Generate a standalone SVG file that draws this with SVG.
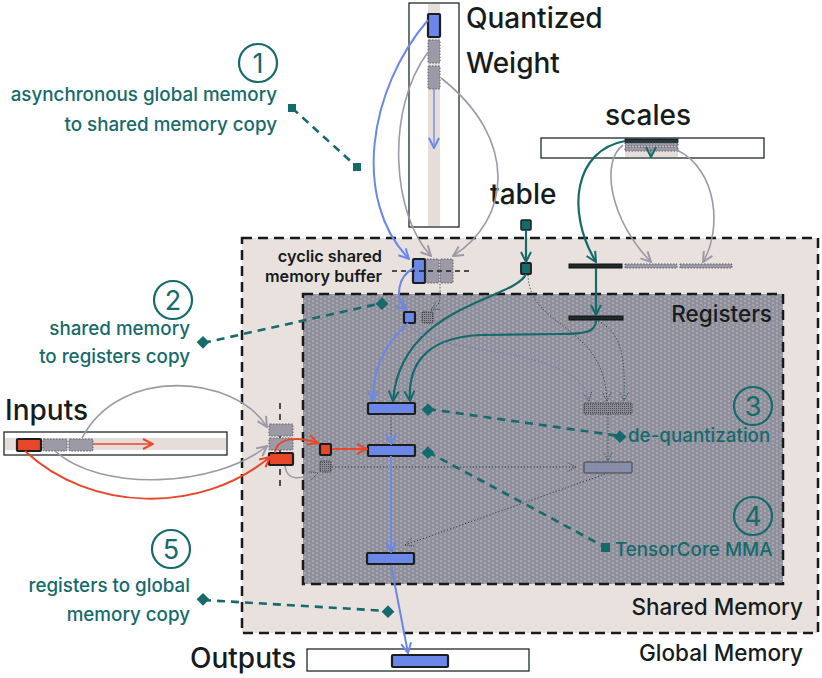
<svg xmlns="http://www.w3.org/2000/svg" width="822" height="678" viewBox="0 0 822 678">
<defs>
<style>
.t{font-family:Inter,"Noto Sans","DejaVu Sans",sans-serif;}
.big{font-size:28px;font-weight:500;fill:#161c1c;}
.mid{font-size:22.5px;font-weight:500;fill:#161c1c;}
.sm{font-size:16.3px;font-weight:600;fill:#161c1c;}
.lab{font-size:18.8px;font-weight:500;fill:#156a6c;}
.num{font-size:27px;font-weight:400;fill:#156a6c;}
.circ{fill:none;stroke:#156a6c;stroke-width:2.2;}
.blue{fill:#6b88e8;stroke:#1b1d1f;stroke-width:2.2;}
.red{fill:#e8472a;stroke:#1b1d1f;stroke-width:2.2;}
.gray{fill:#9b9aa6;stroke:#5f5e6a;stroke-width:1;stroke-dasharray:1.5 1.5;}
.hatch{fill:url(#dk);stroke:#3d4447;stroke-width:1;stroke-dasharray:1.5 1;}
.hatchb{fill:url(#dkb);stroke:#3d4447;stroke-width:1;}
.box{fill:#fff;stroke:#1e2a2a;stroke-width:1.3;}
.stripe{fill:#e6dcd9;}
.cb{fill:none;stroke:#6b88e8;stroke-width:2;}
.cg{fill:none;stroke:#9b9aa6;stroke-width:1.6;}
.ct{fill:none;stroke:#156a6c;stroke-width:2.2;}
.cr{fill:none;stroke:#e8472a;stroke-width:2;}
.cd{fill:none;stroke:#27474a;stroke-width:1;stroke-dasharray:1.2 2;}
.cdb{fill:none;stroke:#5a73c8;stroke-width:1;stroke-dasharray:1.2 2;}
.ld{fill:none;stroke:#156a6c;stroke-width:2.6;stroke-dasharray:8 6;}
.tl{fill:#156a6c;}
</style>
<pattern id="wd" width="8" height="4" patternUnits="userSpaceOnUse">
<rect width="8" height="4" fill="#908f9c"/>
<circle cx="1" cy="1" r="0.6" fill="#ffffff" fill-opacity="0.9"/>
<circle cx="5" cy="3" r="0.6" fill="#ffffff" fill-opacity="0.9"/>
</pattern>
<pattern id="dk" width="2" height="2" patternUnits="userSpaceOnUse">
<rect width="2" height="2" fill="#8c8b97"/>
<rect width="1" height="1" fill="#4a4d55"/>
</pattern>
<pattern id="dkb" width="3" height="3" patternUnits="userSpaceOnUse">
<rect width="3" height="3" fill="#8e8d9b"/>
<rect width="1.2" height="1.2" fill="#6b88e8"/>
</pattern>
<marker id="mb" viewBox="0 0 12 12" refX="11" refY="6" markerWidth="12" markerHeight="12" markerUnits="userSpaceOnUse" orient="auto"><path d="M1,1 L11,6 L1,11" fill="none" stroke="#6b88e8" stroke-width="2"/></marker>
<marker id="mg" viewBox="0 0 12 12" refX="11" refY="6" markerWidth="12" markerHeight="12" markerUnits="userSpaceOnUse" orient="auto"><path d="M1,1 L11,6 L1,11" fill="none" stroke="#9b9aa6" stroke-width="2"/></marker>
<marker id="mt" viewBox="0 0 12 12" refX="11" refY="6" markerWidth="12" markerHeight="12" markerUnits="userSpaceOnUse" orient="auto"><path d="M1,1 L11,6 L1,11" fill="none" stroke="#156a6c" stroke-width="2"/></marker>
<marker id="mr" viewBox="0 0 12 12" refX="11" refY="6" markerWidth="12" markerHeight="12" markerUnits="userSpaceOnUse" orient="auto"><path d="M1,1 L11,6 L1,11" fill="none" stroke="#e8472a" stroke-width="2"/></marker>
<marker id="md" viewBox="0 0 12 12" refX="11" refY="6" markerWidth="10" markerHeight="10" markerUnits="userSpaceOnUse" orient="auto"><path d="M1,1 L11,6 L1,11" fill="none" stroke="#27474a" stroke-width="1" stroke-dasharray="1.2 1.2"/></marker>
</defs>

<rect width="822" height="678" fill="#ffffff"/>

<g id="shared-memory">
<rect x="242" y="238" width="576" height="395" fill="#e9e1de" stroke="#161a1a" stroke-width="2.5" stroke-dasharray="10 6"/>
<text class="t mid" x="803" y="615" text-anchor="end">Shared Memory</text>
</g>
<g id="registers">
<rect x="303" y="294" width="480" height="290" fill="url(#wd)" stroke="#161a1a" stroke-width="2.5" stroke-dasharray="10 6"/>
<text class="t mid" x="772" y="322" text-anchor="end">Registers</text>
</g>
<g id="global-memory">
<text class="t mid" x="803" y="661" text-anchor="end">Global Memory</text>
</g>

<g id="quantized-weight">
<rect class="box" x="409" y="3" width="50" height="224"/>
<rect class="stripe" x="428" y="4" width="12" height="222"/>
<rect class="blue" x="428" y="14" width="12" height="23" rx="1"/>
<rect class="gray" x="428" y="40" width="12" height="23" rx="1"/>
<rect class="gray" x="428" y="66" width="12" height="23" rx="1"/>
<text class="t big" x="466" y="28">Quantized</text>
<text class="t big" x="466" y="73">Weight</text>
</g>

<g id="scales">
<rect class="box" x="541" y="138" width="223" height="20"/>
<rect class="stripe" x="625" y="139" width="53" height="18"/>
<rect x="625" y="139" width="53" height="3.5" fill="#1e3a3c" stroke="#111" stroke-width="0.8"/>
<rect class="gray" x="625" y="143" width="53" height="3"/>
<rect class="gray" x="625" y="147" width="53" height="4"/>
<text class="t big" x="648" y="125" text-anchor="middle">scales</text>
</g>

<g id="table">
<text class="t big" x="490" y="204">table</text>
<rect x="521" y="220" width="10" height="10" rx="1" fill="#156a6c" stroke="#1b1d1f" stroke-width="1.5"/>
</g>

<g id="inputs">
<text class="t big" x="5" y="420">Inputs</text>
<rect class="box" x="4" y="432" width="223" height="23"/>
<rect class="stripe" x="5" y="438" width="221" height="12"/>
<rect class="red" x="17" y="439" width="24" height="12" rx="1"/>
<rect class="gray" x="43" y="439" width="24" height="12" rx="1"/>
<rect class="gray" x="69" y="439" width="24" height="12" rx="1"/>
</g>

<g id="outputs">
<text class="t big" x="190" y="668">Outputs</text>
<rect class="box" x="307" y="649" width="222" height="22"/>
<rect class="blue" x="392" y="655" width="56" height="12" rx="1"/>
</g>

<g id="cyclic-buffer">
<text class="t sm" x="382" y="262" text-anchor="end">cyclic shared</text>
<text class="t sm" x="382" y="282" text-anchor="end">memory buffer</text>
<rect class="blue" x="413" y="259" width="12" height="24" rx="1"/>
<rect class="gray" x="426" y="259" width="13" height="24" rx="1"/>
<rect class="gray" x="440" y="259" width="13" height="24" rx="1"/>
<line x1="392" y1="271" x2="473" y2="271" stroke="#1b1d1f" stroke-width="1.3" stroke-dasharray="5 4"/>
</g>

<g id="scales-smem">
<rect x="569" y="264" width="53" height="4" fill="#1e2a2a" stroke="#111" stroke-width="1"/>
<rect class="gray" x="625" y="264" width="52" height="4"/>
<rect class="gray" x="680" y="264" width="52" height="4"/>
</g>
<g id="table-smem">
<rect x="521" y="263" width="10" height="11" rx="1" fill="#156a6c" stroke="#1b1d1f" stroke-width="1.8"/>
</g>

<g id="inputs-smem">
<line x1="280" y1="403" x2="280" y2="486" stroke="#1b1d1f" stroke-width="1.5" stroke-dasharray="6 5"/>
<rect class="gray" x="269" y="424" width="24" height="12" rx="1"/>
<rect class="gray" x="269" y="438" width="24" height="12" rx="1"/>
<rect class="red" x="269" y="453" width="24" height="12" rx="1"/>
</g>

<g id="reg-weight">
<rect class="blue" x="404" y="312" width="11" height="11" rx="1"/>
<rect class="hatch" x="422" y="312" width="11" height="11" rx="1"/>
</g>
<g id="reg-scale">
<rect x="569" y="316" width="54" height="4" fill="#1e2a2a" stroke="#111" stroke-width="1"/>
</g>
<g id="reg-input">
<rect class="red" x="320" y="444" width="11" height="11" rx="1"/>
<rect class="hatch" x="320" y="461" width="11" height="11" rx="1"/>
</g>
<g id="reg-dequant">
<rect class="hatch" x="584" y="403" width="48" height="11" rx="1"/>
<rect class="hatchb" x="584" y="462" width="48" height="11" rx="1"/>
</g>
<g id="reg-mma">
<rect class="blue" x="368" y="403" width="47" height="11" rx="1"/>
<rect class="blue" x="368" y="445" width="47" height="11" rx="1"/>
<rect class="blue" x="367" y="553" width="47" height="11" rx="1"/>
</g>

<g id="connectors">
<path class="cb" d="M428 20 C368 90 352 200 409 259" marker-end="url(#mb)"/>
<path class="cg" d="M428 52 C385 110 392 215 431 256" marker-end="url(#mg)"/>
<path class="cg" d="M441 78 C520 140 510 220 453 256" marker-end="url(#mg)"/>
<path d="M434 89 L434 148" fill="none" stroke="#6b88e8" stroke-width="1.3" marker-end="url(#mb)"/>
<path class="ct" d="M526 230 L526 262" marker-end="url(#mt)"/>
<path class="ct" d="M625 141 C575 150 565 210 596 262" marker-end="url(#mt)"/>
<path class="cg" d="M623 145 C600 162 610 220 651 262" marker-end="url(#mg)"/>
<path class="cg" d="M677 150 C718 170 722 230 703 262" marker-end="url(#mg)"/>
<path d="M651 149 L651 157" stroke="#156a6c" stroke-width="1" fill="none" marker-end="url(#mt)"/>
<path class="ct" d="M596 268 L596 315" marker-end="url(#mt)"/>
<path class="cb" d="M414 268 C398 276 394 298 406 310" marker-end="url(#mb)"/>
<path class="cd" d="M440 284 L440 298 C440 304 436 307 431 310" marker-end="url(#md)"/>
<path class="cb" d="M408 323 C384 345 372 370 373 401" marker-end="url(#mb)"/>
<path class="ct" d="M526 274 C515 300 400 305 393 401" marker-end="url(#mt)"/>
<path class="ct" d="M596 320 C596 332 586 334 560 334 L480 335 C420 338 408 370 410 401" marker-end="url(#mt)"/>
<path class="cdb" d="M410 325 C432 358 578 342 589 401" marker-end="url(#md)"/>
<path class="cd" d="M528 275 C530 330 604 322 607 401" marker-end="url(#md)"/>
<path class="cd" d="M598 321 C624 334 625 362 624 401" marker-end="url(#md)"/>
<path class="cd" d="M608 414 L608 461" marker-end="url(#md)"/>
<path class="cd" d="M605 474 L405 545" marker-end="url(#md)"/>
<path class="cd" d="M332 467 L576 467" marker-end="url(#md)"/>
<path class="cd" d="M391 414 L391 440"/>
<path d="M391 436 L391 444" stroke="#6b88e8" stroke-width="1.5" fill="none" marker-end="url(#mb)"/>
<path d="M391 456 L391 552" stroke="#6b88e8" stroke-width="2" fill="none" marker-end="url(#mb)"/>
<path d="M391 565 L408 653" stroke="#6b88e8" stroke-width="2" fill="none" marker-end="url(#mb)"/>
<path d="M93 444 L153 444" stroke="#e8472a" stroke-width="1.6" fill="none" marker-end="url(#mr)"/>
<path class="cr" d="M25 451 C90 512 200 515 270 457" marker-end="url(#mr)"/>
<path class="cr" d="M275 453 C277 436 300 437 318 443" marker-end="url(#mr)"/>
<path class="cr" d="M332 449 L367 449" marker-end="url(#mr)"/>
<path class="cg" d="M82 438 C120 365 235 375 267 427" marker-end="url(#mg)"/>
<path class="cg" d="M55 451 C100 492 215 488 267 446" marker-end="url(#mg)"/>
<path class="cg" d="M285 466 C287 482 300 479 318 473" marker-end="url(#md)"/>
</g>

<g id="label-1">
<circle class="circ" cx="258" cy="63" r="19"/>
<text class="t num" x="258" y="73" text-anchor="middle">1</text>
<text class="t lab" x="277" y="101" text-anchor="end">asynchronous global memory</text>
<text class="t lab" x="277" y="131" text-anchor="end">to shared memory copy</text>
<path class="ld" d="M292 108 L357 167"/>
<rect class="tl" x="288" y="104" width="8" height="8"/>
<rect class="tl" x="353" y="163" width="8" height="8"/>
</g>
<g id="label-2">
<circle class="circ" cx="173" cy="300" r="19"/>
<text class="t num" x="173" y="310" text-anchor="middle">2</text>
<text class="t lab" x="190" y="335" text-anchor="end">shared memory</text>
<text class="t lab" x="190" y="363" text-anchor="end">to registers copy</text>
<path class="ld" d="M203 343 L382 303"/>
<rect class="tl" x="198" y="338" width="9" height="9" transform="rotate(45 203 343)"/>
<rect class="tl" x="378" y="299" width="9" height="9" transform="rotate(45 382 303)"/>
</g>
<g id="label-3">
<circle class="circ" cx="753" cy="406" r="19"/>
<text class="t num" x="753" y="416" text-anchor="middle">3</text>
<text class="t lab" x="628" y="442">de-quantization</text>
<path class="ld" d="M428 409 L620 436"/>
<rect class="tl" x="424" y="405" width="9" height="9" transform="rotate(45 428 409)"/>
<rect class="tl" x="616" y="432" width="9" height="9" transform="rotate(45 620 436)"/>
</g>
<g id="label-4">
<circle class="circ" cx="753" cy="516" r="19"/>
<text class="t num" x="753" y="526" text-anchor="middle">4</text>
<text class="t lab" x="615" y="556">TensorCore MMA</text>
<path class="ld" d="M428 452 L605 547"/>
<rect class="tl" x="424" y="448" width="9" height="9" transform="rotate(45 428 452)"/>
<rect class="tl" x="601" y="543" width="9" height="9"/>
</g>
<g id="label-5">
<circle class="circ" cx="171" cy="549" r="19"/>
<text class="t num" x="171" y="559" text-anchor="middle">5</text>
<text class="t lab" x="190" y="592" text-anchor="end">registers to global</text>
<text class="t lab" x="190" y="621" text-anchor="end">memory copy</text>
<path class="ld" d="M203 600 L388 611"/>
<rect class="tl" x="198" y="595" width="9" height="9" transform="rotate(45 203 600)"/>
<rect class="tl" x="384" y="607" width="9" height="9" transform="rotate(45 388 611)"/>
</g>
</svg>
